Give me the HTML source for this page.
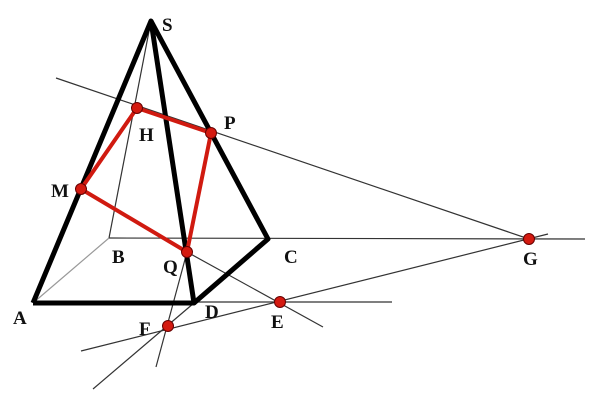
<!DOCTYPE html>
<html><head><style>body{margin:0;background:#fff}svg{display:block}text{font-family:"Liberation Serif",serif;font-weight:bold;font-size:19px;fill:#111}</style></head>
<body><svg width="600" height="404" viewBox="0 0 600 404">
<g stroke="#333" stroke-width="1.2" fill="none">
<line x1="56" y1="78" x2="529" y2="239"/>
<line x1="109" y1="238" x2="585" y2="239"/>
<line x1="81" y1="351" x2="548" y2="234"/>
<line x1="194" y1="302" x2="392" y2="302"/>
<line x1="187" y1="252" x2="323" y2="327"/>
<line x1="93" y1="389" x2="194" y2="303"/>
<line x1="156" y1="367" x2="187" y2="252"/>
<line x1="151" y1="21" x2="109" y2="238"/>
<line x1="33" y1="303" x2="109" y2="238" stroke="#999"/>
</g>
<g stroke="#000" stroke-width="5" fill="none" stroke-linejoin="round">
<polyline points="33,303 151,21 194,303 33,303"/>
<polyline points="151,21 268,239 194,303"/>
</g>
<polygon points="137,108 211,133 187,252 81,189" fill="none" stroke="#d01a10" stroke-width="4"/>
<g fill="#d41a10" stroke="#600" stroke-width="1">
<circle cx="137" cy="108" r="5.5"/><circle cx="211" cy="133" r="5.5"/><circle cx="81" cy="189" r="5.5"/><circle cx="187" cy="252" r="5.5"/><circle cx="280" cy="302" r="5.5"/><circle cx="168" cy="326" r="5.5"/><circle cx="529" cy="239" r="5.5"/>
</g>
<text x="162" y="31">S</text><text x="139" y="141">H</text><text x="224" y="129">P</text><text x="51" y="197">M</text>
<text x="112" y="263">B</text><text x="163" y="273">Q</text><text x="284" y="263">C</text><text x="13" y="324">A</text>
<text x="205" y="318">D</text><text x="271" y="328">E</text><text x="139" y="335">F</text><text x="523" y="265">G</text>
</svg></body></html>
